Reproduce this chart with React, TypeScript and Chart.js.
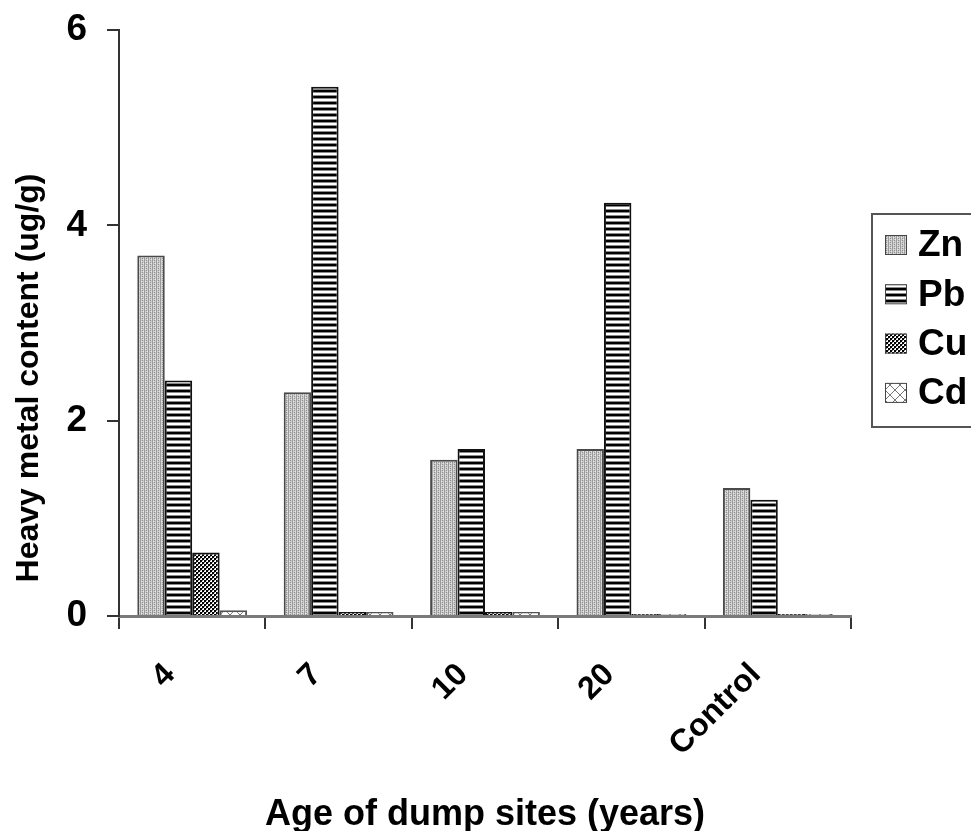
import React, { useEffect, useRef } from "react";
import { Chart, registerables } from "chart.js";

Chart.register(...registerables);

const categories = ["4", "7", "10", "20", "Control"];
const seriesNames = ["Zn", "Pb", "Cu", "Cd"];
const znValues = [3.69, 2.29, 1.6, 1.71, 1.31];
const pbValues = [2.41, 5.42, 1.71, 4.23, 1.19];
const cuValues = [0.65, 0.04, 0.04, 0.02, 0.02];
const cdValues = [0.06, 0.04, 0.04, 0.02, 0.02];
const yTickValues = [0, 2, 4, 6];
const xTitle = "Age of dump sites (years)";
const yTitle = "Heavy metal content (ug/g)";

const FONT = "'Liberation Sans', Arial, sans-serif";

function makePattern(w: number, h: number, draw: (g: CanvasRenderingContext2D) => void) {
  const c = document.createElement("canvas");
  c.width = w;
  c.height = h;
  const g = c.getContext("2d")!;
  draw(g);
  return g.createPattern(c, "repeat")!;
}

function px(g: CanvasRenderingContext2D, color: string, x: number, y: number, w = 1, h = 1) {
  g.fillStyle = color;
  g.fillRect(x, y, w, h);
}

function buildPatterns() {
  const zn = makePattern(4, 4, (g) => {
    px(g, "#cdcdcd", 0, 0, 4, 4);
    px(g, "#9a9a9a", 0, 0, 1, 4);
    px(g, "#8c8c8c", 2, 0);
    px(g, "#8c8c8c", 2, 2);
    px(g, "#e8e8e8", 1, 1);
    px(g, "#e8e8e8", 3, 3);
  });
  const pb = makePattern(2, 6, (g) => {
    px(g, "#000000", 0, 0, 2, 2);
    px(g, "#8a8a8a", 0, 2, 2, 1);
    px(g, "#ffffff", 0, 3, 2, 2);
    px(g, "#8a8a8a", 0, 5, 2, 1);
  });
  const cu = makePattern(4, 4, (g) => {
    px(g, "#ffffff", 0, 0, 4, 4);
    px(g, "#000000", 0, 0, 2, 2);
    px(g, "#000000", 2, 2, 2, 2);
    px(g, "#777777", 2, 0);
    px(g, "#777777", 0, 2);
  });
  const cd = makePattern(10, 10, (g) => {
    px(g, "#ffffff", 0, 0, 10, 10);
    g.strokeStyle = "#777777";
    g.lineWidth = 1;
    g.beginPath();
    g.moveTo(0, 5);
    g.lineTo(5, 0);
    g.lineTo(10, 5);
    g.lineTo(5, 10);
    g.closePath();
    g.stroke();
  });
  return [zn, pb, cu, cd];
}

const legendPlugin = {
  id: "boxLegend",
  afterDraw(chart: any) {
    const ctx: CanvasRenderingContext2D = chart.ctx;
    const area = chart.chartArea;
    const left = area.right + 21;
    const top = area.top + 184;
    ctx.save();
    ctx.strokeStyle = "#555555";
    ctx.lineWidth = 2;
    ctx.strokeRect(left, top, 120, 213);
    chart.data.datasets.forEach((ds: any, i: number) => {
      const cy = top + 31 + i * 49.3;
      ctx.fillStyle = ds.backgroundColor;
      ctx.fillRect(left + 13, cy - 10, 22, 20);
      ctx.strokeStyle = "#444444";
      ctx.lineWidth = 1;
      ctx.strokeRect(left + 13.5, cy - 9.5, 21, 19);
      ctx.fillStyle = "#000000";
      ctx.font = `bold 37px ${FONT}`;
      ctx.textBaseline = "middle";
      ctx.textAlign = "left";
      ctx.fillText(ds.label, left + 46, cy + 1);
    });
    ctx.restore();
  },
};

const yTitlePlugin = {
  id: "yTitle",
  afterDraw(chart: any) {
    const ctx: CanvasRenderingContext2D = chart.ctx;
    const area = chart.chartArea;
    ctx.save();
    ctx.translate(29, area.bottom - 238);
    ctx.rotate(-Math.PI / 2);
    ctx.font = `bold 32px ${FONT}`;
    ctx.fillStyle = "#000000";
    ctx.textAlign = "center";
    ctx.textBaseline = "middle";
    ctx.fillText(yTitle, 0, 0);
    ctx.restore();
  },
};

export default function App() {
  const ref = useRef<HTMLCanvasElement | null>(null);

  useEffect(() => {
    if (!ref.current) return;
    const patterns = buildPatterns();
    const valueSets = [znValues, pbValues, cuValues, cdValues];
    const borders = ["#4a4a4a", "#111111", "#111111", "#555555"];
    const chart = new Chart(ref.current, {
      type: "bar",
      data: {
        labels: categories,
        datasets: seriesNames.map((name, i) => ({
          label: name,
          data: valueSets[i],
          backgroundColor: patterns[i] as any,
          borderColor: borders[i],
          borderWidth: 2,
          categoryPercentage: 0.75,
          barPercentage: 1.0,
        })),
      },
      options: {
        animation: false,
        responsive: true,
        maintainAspectRatio: false,
        layout: { padding: { top: 30, right: 120, bottom: 0, left: 0 } },
        plugins: {
          legend: { display: false },
          title: { display: false },
          tooltip: { enabled: false },
        },
        scales: {
          x: {
            afterFit: (scale: any) => {
              scale.height = 215;
              scale.paddingLeft = 0;
              scale.paddingRight = 0;
            },
            grid: {
              display: true,
              drawOnChartArea: false,
              drawTicks: true,
              tickLength: 13,
              color: "#333333",
              lineWidth: 2,
            },
            border: { display: true, color: "#7a7a7a", width: 3 },
            ticks: {
              autoSkip: false,
              minRotation: 45,
              maxRotation: 45,
              padding: 27,
              labelOffset: -22,
              color: "#000000",
              font: { family: FONT, size: 32, weight: "bold" },
            },
            title: {
              display: true,
              text: xTitle,
              color: "#000000",
              padding: 0,
              font: { family: FONT, size: 36, weight: "bold", lineHeight: "32px" as any },
            },
          },
          y: {
            min: 0,
            max: 6,
            afterFit: (scale: any) => {
              scale.width = 119;
              scale.paddingTop = 0;
              scale.paddingBottom = 0;
            },
            afterBuildTicks: (scale: any) => {
              scale.ticks = yTickValues.map((v) => ({ value: v }));
            },
            grid: {
              display: true,
              drawOnChartArea: false,
              drawTicks: true,
              tickLength: 12,
              color: "#333333",
              lineWidth: 2,
            },
            border: { display: true, color: "#333333", width: 2 },
            ticks: {
              padding: 20,
              color: "#000000",
              font: { family: FONT, size: 37, weight: "bold" },
            },
          },
        },
      },
      plugins: [legendPlugin, yTitlePlugin],
    });
    return () => chart.destroy();
  }, []);

  return (
    <div style={{ position: "absolute", left: 0, top: 0, width: 971, height: 831, background: "#ffffff" }}>
      <canvas ref={ref} />
    </div>
  );
}
